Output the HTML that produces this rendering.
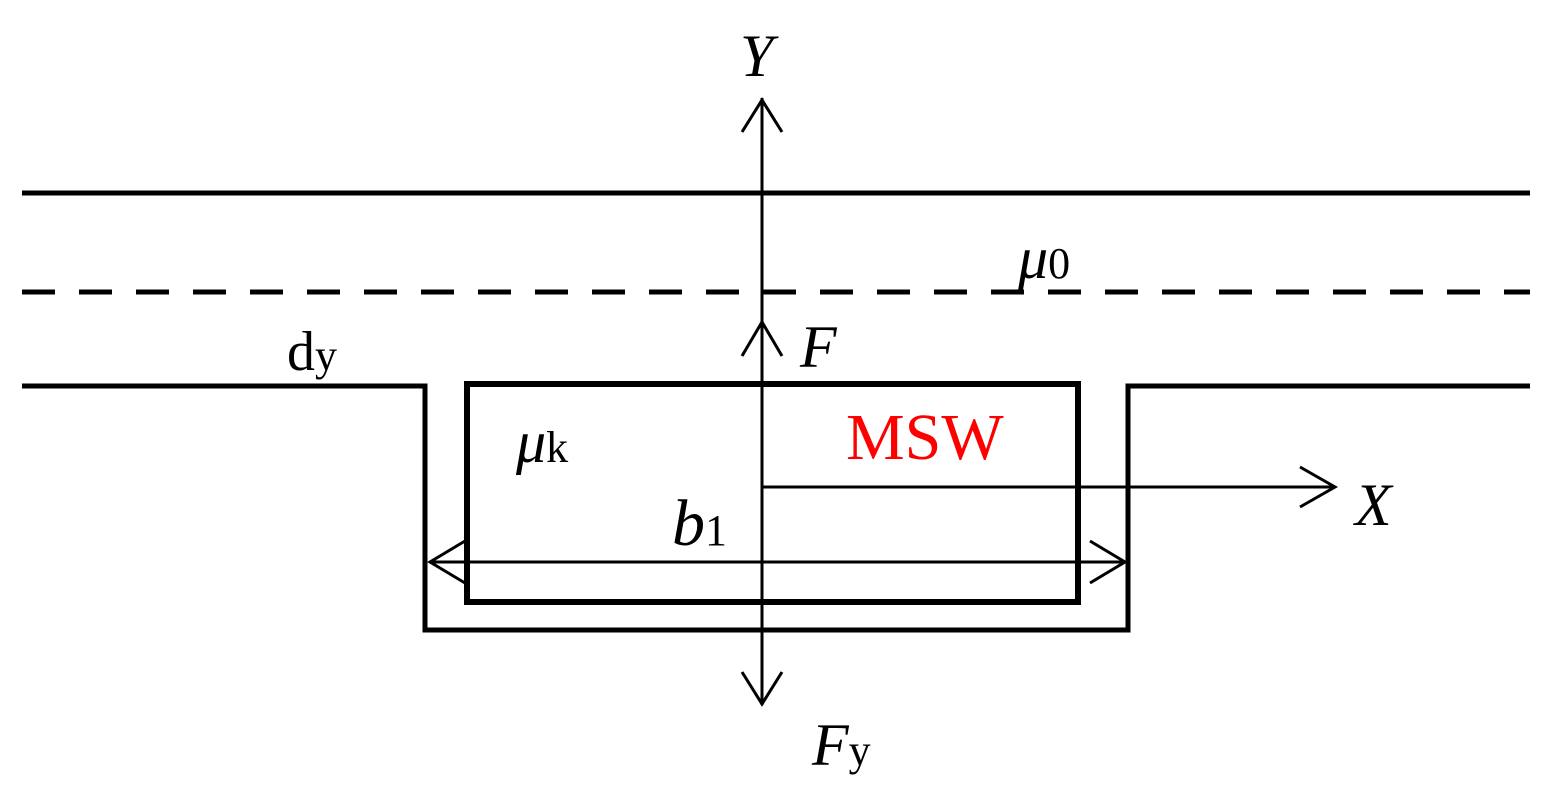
<!DOCTYPE html>
<html><head><style>body{margin:0;background:#fff}</style></head><body>
<svg width="1555" height="791" viewBox="0 0 1555 791" xmlns="http://www.w3.org/2000/svg">
<g stroke="#000" fill="none" stroke-linecap="butt">
<line x1="22" y1="193" x2="1530" y2="193" stroke-width="5"/>
<line x1="22" y1="292" x2="1530" y2="292" stroke-width="5" stroke-dasharray="33,24"/>
<polyline points="22,386 425,386 425,630 1128,630 1128,386 1530,386" stroke-width="5"/>
<rect x="467" y="384" width="611" height="218" stroke-width="6"/>
<line x1="762" y1="98" x2="762" y2="705" stroke-width="3"/>
<polyline points="742,132 762,100 782,132" stroke-width="3"/>
<polyline points="742,356 762,322 782,356" stroke-width="3"/>
<polyline points="742,672 762,704 782,672" stroke-width="3"/>
<line x1="762" y1="487" x2="1335" y2="487" stroke-width="3"/>
<polyline points="1300,467 1335,487 1300,507" stroke-width="3"/>
<line x1="430" y1="562" x2="1125" y2="562" stroke-width="3"/>
<polyline points="465,541 430,562 465,583" stroke-width="3"/>
<polyline points="1090,541 1125,562 1090,583" stroke-width="3"/>
</g>
<g font-family="Liberation Serif, serif" fill="#000">
<text x="740" y="76" font-size="60" font-style="italic">Y</text>
<text x="1018" y="278" font-size="60" font-style="italic">μ<tspan font-style="normal" font-size="44">0</tspan></text>
<text x="800" y="367" font-size="60" font-style="italic">F</text>
<text x="287" y="370" font-size="56">d<tspan font-size="44">y</tspan></text>
<text x="516" y="462" font-size="60" font-style="italic">μ<tspan font-style="normal" font-size="44">k</tspan></text>
<text x="846" y="459" font-size="66" fill="#f00">MSW</text>
<text x="672" y="545" font-size="66" font-style="italic">b<tspan font-style="normal" font-size="44">1</tspan></text>
<text x="1355" y="525" font-size="60" font-style="italic">X</text>
<text x="812" y="765" font-size="60" font-style="italic">F<tspan font-style="normal" font-size="44">y</tspan></text>
</g>
</svg>
</body></html>
